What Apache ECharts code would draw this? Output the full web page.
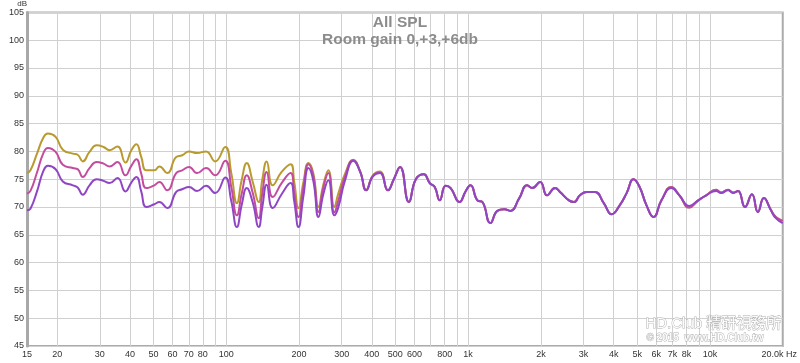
<!DOCTYPE html>
<html>
<head>
<meta charset="utf-8">
<script src="https://cdn.jsdelivr.net/npm/echarts@6/dist/echarts.min.js"></script>
<style>
html,body{margin:0;padding:0;background:#fff;}
#chart{width:800px;height:363px;}
</style>
</head>
<body>
<div id="chart"></div>
<script>
// Frequencies (Hz)
const freqs = [
  15, 15.5, 16.5, 17.5, 18.3, 19.7, 21.1, 23.2, 24.3, 25.5,
  27.2, 29.1, 31.1, 32.9, 35.5, 38.3, 40.5, 42.5, 44.5, 46.7,
  50.4, 52.9, 57, 62.1, 65.7, 70.2, 75.7, 82.5, 90, 99,
  105, 110.6, 116, 121.5, 128.7, 136.2, 141, 146.9, 155.6, 169.4,
  184.4, 191, 198.9, 208.5, 218.7, 229.3, 240.5, 252, 264.3, 280,
  290, 310, 335, 358, 379, 404, 432, 466, 493, 523,
  569, 608, 656, 694, 728, 763, 808, 847, 922, 976,
  1023, 1093, 1146, 1237, 1321, 1412, 1494, 1628, 1755, 1840,
  1986, 2121, 2289, 2399, 2613, 2739, 2900, 3097, 3342, 3639,
  3925, 4234, 4524, 4834, 5118, 5467, 5842, 6303, 6925, 7473,
  8214, 8946, 9650, 10608, 11122, 11883, 12461, 13065, 13959, 14915,
  15784, 16711, 17860, 18720, 20000
];
// Room gain +6 dB (gold)
const gain6 = [
  76.1, 76.6, 79.6, 82.4, 83.2, 82.6, 80.3, 79.6, 79.4, 78.2,
  79.9, 81.1, 80.8, 80.2, 80.9, 78.0, 80.2, 81.3, 79.0, 76.6,
  76.6, 77.3, 76.1, 79.0, 79.3, 80.0, 79.7, 80.0, 78.2, 80.8,
  76.0, 70.7, 75.0, 77.9, 74.5, 70.9, 75.0, 78.2, 73.9, 76.3,
  77.7, 74.5, 69.8, 74.5, 77.9, 76.0, 70.0, 74.0, 76.6, 70.0,
  72.3, 76.0, 78.5, 76.4, 73.1, 75.7, 76.4, 73.0, 75.0, 77.2,
  70.9, 75.0, 75.9, 74.3, 73.6, 71.2, 73.8, 73.4, 70.9, 72.8,
  73.9, 71.2, 70.9, 67.1, 69.3, 69.6, 69.3, 71.6, 73.9, 73.4,
  74.5, 72.1, 73.4, 72.7, 71.2, 70.9, 72.1, 72.7, 72.7, 70.7,
  68.7, 70.3, 72.5, 75.0, 73.6, 70.3, 68.2, 71.2, 73.6, 72.1,
  69.9, 71.2, 72.1, 73.1, 72.6, 73.1, 72.6, 72.9, 70.0, 72.3,
  69.1, 71.6, 69.5, 68.2, 67.5
];
// Room gain +3 dB (pink)
const gain3 = [
  72.4, 72.9, 76.2, 79.6, 80.6, 79.9, 77.6, 77.0, 76.8, 75.4,
  77.0, 78.1, 77.8, 77.3, 78.1, 75.7, 77.4, 78.6, 76.0, 73.4,
  73.9, 74.5, 73.0, 76.1, 76.6, 77.2, 76.1, 77.0, 75.7, 78.3,
  73.5, 68.5, 72.5, 75.7, 72.5, 68.0, 72.5, 76.3, 71.8, 74.3,
  76.1, 72.5, 68.2, 73.5, 77.7, 75.5, 69.1, 73.5, 76.1, 69.0,
  71.0, 75.5, 78.4, 76.3, 73.0, 75.6, 76.2, 73.0, 75.0, 77.2,
  70.9, 75.0, 75.9, 74.3, 73.6, 71.2, 73.8, 73.4, 70.9, 72.8,
  73.9, 71.2, 70.9, 67.1, 69.3, 69.6, 69.3, 71.6, 73.9, 73.4,
  74.5, 72.1, 73.4, 72.7, 71.2, 70.9, 72.1, 72.7, 72.7, 70.7,
  68.7, 70.3, 72.5, 75.0, 73.6, 70.3, 68.2, 71.2, 73.6, 72.1,
  69.9, 71.2, 72.1, 73.1, 72.6, 73.1, 72.6, 72.9, 70.0, 72.3,
  69.1, 71.6, 69.5, 68.2, 67.5
];
// Room gain 0 dB (purple)
const gain0 = [
  69.4, 69.7, 72.8, 76.4, 77.4, 76.8, 74.6, 73.9, 73.5, 72.2,
  73.9, 75.0, 74.7, 74.3, 75.2, 72.8, 74.4, 75.4, 72.8, 70.0,
  70.5, 70.9, 69.8, 72.7, 73.2, 73.6, 72.9, 73.8, 72.5, 75.3,
  71.0, 66.4, 70.5, 73.4, 70.8, 66.4, 70.0, 74.0, 69.8, 72.3,
  74.3, 71.0, 66.4, 72.0, 77.0, 74.6, 68.2, 72.3, 74.8, 68.5,
  69.8, 74.8, 78.3, 76.3, 73.0, 75.5, 76.1, 73.0, 75.0, 77.2,
  70.9, 75.0, 75.9, 74.3, 73.6, 71.2, 73.8, 73.4, 70.9, 72.8,
  73.9, 71.2, 70.9, 67.1, 69.3, 69.6, 69.3, 71.6, 73.9, 73.4,
  74.5, 72.1, 73.4, 72.7, 71.2, 70.9, 72.1, 72.7, 72.7, 70.7,
  68.7, 70.3, 72.5, 75.0, 73.6, 70.3, 68.2, 71.2, 73.4, 72.1,
  70.2, 71.2, 72.1, 72.9, 72.5, 73.0, 72.5, 72.9, 70.0, 72.3,
  69.1, 71.6, 69.4, 68.0, 67.1
];
// Axis ticks
const gridFreqs = [20,30,40,50,60,70,80,90,100,200,300,400,500,600,700,800,900,1000,2000,3000,4000,5000,6000,7000,8000,9000,10000];
const labelFreqs = [15,20,30,40,50,60,70,80,100,200,300,400,500,600,800,1000,2000,3000,4000,5000,6000,7000,8000,10000,20000];
const titleLines = ['All SPL', 'Room gain 0,+3,+6db'];

function pairs(vals){ return freqs.map((f,i)=>[f, vals[i]]); }

const chart = echarts.init(document.getElementById('chart'), null, {renderer:'canvas'});
const lbl = {fontFamily:'Liberation Sans, Arial, sans-serif', fontSize:9, color:'#333'};
chart.setOption({
  animation:false,
  backgroundColor:'#fff',
  title:{
    text: titleLines.join('\n'),
    left:'center', top:9,
    textStyle:{fontFamily:'Liberation Sans, Arial, sans-serif', fontSize:15.5, fontWeight:'bold', color:'#8c8c8c', lineHeight:17}
  },
  grid:{left:27, right:13, top:12, bottom:17, show:true, borderColor:'#ababab', borderWidth:2},
  xAxis:{
    type:'log', logBase:10, min:15, max:20000,
    axisLine:{show:false},
    axisTick:{show:false, customValues:gridFreqs},
    splitLine:{show:true, lineStyle:{color:'#d0d0d0', width:1}},
    axisLabel:Object.assign({}, lbl, {
      customValues:labelFreqs, margin:4,
      formatter:function(v){
        if (v >= 20000) return '{e|20.0k Hz}';
        if (v >= 1000) return (v/1000)+'k';
        return String(v);
      },
      rich:{e:{fontFamily:'Liberation Sans, Arial, sans-serif', fontSize:9, color:'#333', padding:[0,7,0,0]}}
    })
  },
  yAxis:{
    type:'value', min:45, max:105, interval:5,
    name:'dB', nameLocation:'end', nameGap:2,
    nameTextStyle:{fontFamily:'Liberation Sans, Arial, sans-serif', fontSize:8, color:'#333', align:'right', padding:[0,0,0,0]},
    axisLine:{show:true, lineStyle:{color:'#a8a8a8', width:3}},
    axisTick:{show:false},
    splitLine:{show:true, lineStyle:{color:'#d0d0d0', width:1}},
    axisLabel:Object.assign({}, lbl, {margin:3})
  },
  series:[
    {name:'+6', type:'line', data:pairs(gain6), smooth:0.5, showSymbol:false, lineStyle:{color:'#b89a2e', width:2}, itemStyle:{color:'#b89a2e'}},
    {name:'+3', type:'line', data:pairs(gain3), smooth:0.5, showSymbol:false, lineStyle:{color:'#c44c9e', width:2}, itemStyle:{color:'#c44c9e'}},
    {name:'0', type:'line', data:pairs(gain0), smooth:0.5, showSymbol:false, lineStyle:{color:'#9046c4', width:2}, itemStyle:{color:'#9046c4'}}
  ],
  graphic:[
    {type:'text', left:645, top:316, z:100, style:{text:'HD.Club 精研視務所', font:'15px "Liberation Sans", "Noto Sans CJK TC", sans-serif', fill:'rgba(255,255,255,0.95)', stroke:'rgba(150,150,150,0.8)', lineWidth:0.8}},
    {type:'text', left:646, top:333, z:100, style:{text:'© 2015  www.HD.Club.tw', font:'bold 10px "Liberation Sans", sans-serif', fill:'rgba(255,255,255,0.95)', stroke:'rgba(150,150,150,0.8)', lineWidth:0.8}}
  ]
});
</script>
</body>
</html>
